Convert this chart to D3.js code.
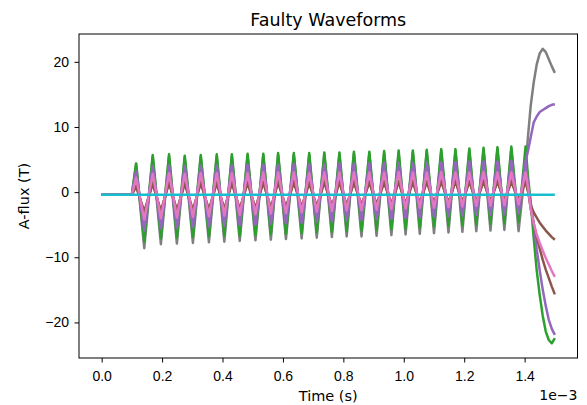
<!DOCTYPE html>
<html>
<head>
<meta charset="utf-8">
<script src="https://cdn.jsdelivr.net/npm/d3@7"></script>
<style>
  body { margin: 0; background: #fff; }
  svg { display: block; font-family: "DejaVu Sans", sans-serif; }
</style>
</head>
<body>
<svg id="chart"></svg>
<script>
// time values are in units of 1e-3 s
const peakT = [0.114, 0.169, 0.223, 0.275, 0.328, 0.381, 0.431, 0.483, 0.535, 0.584, 0.636, 0.687, 0.737,
  0.787, 0.835, 0.886, 0.935, 0.983, 1.030, 1.076, 1.124, 1.171, 1.217, 1.264, 1.310, 1.356];
const troughT = [0.141, 0.196, 0.249, 0.302, 0.355, 0.406, 0.457, 0.509, 0.560, 0.610, 0.662, 0.712, 0.762,
  0.811, 0.860, 0.910, 0.959, 1.006, 1.053, 1.100, 1.148, 1.194, 1.240, 1.287, 1.333, 1.380];
const tailT = [1.403, 1.412, 1.42, 1.43, 1.44, 1.45, 1.46, 1.47, 1.48, 1.49, 1.5];
const leadT = [0, 0.1];
const restLevel = -0.4;

// gray
const grayPk = [4.3, 5.4, 5.5, 5.3, 5.4, 5.5, 5.5, 5.6, 5.6, 5.7, 5.7, 5.7, 5.8, 5.8, 5.9, 5.9, 6.0, 6.0, 6.1, 6.2, 6.3, 6.3, 6.4, 6.5, 6.6, 6.6];
const grayTr = [-8.6, -8.0, -7.9, -7.8, -7.7, -7.6, -7.5, -7.4, -7.3, -7.2, -7.1, -7.0, -6.9, -6.8, -6.8, -6.7, -6.6, -6.5, -6.4, -6.3, -6.2, -6.1, -6.0, -5.9, -5.8, -6.0];
const grayTail = [4.0, 9.0, 13.2, 16.8, 19.6, 21.3, 22.0, 21.5, 20.4, 19.3, 18.3];
// green
const greenPk = [4.4, 5.7, 5.8, 5.6, 5.7, 5.8, 5.8, 5.9, 5.9, 6.0, 6.0, 6.0, 6.1, 6.1, 6.2, 6.2, 6.3, 6.4, 6.4, 6.5, 6.6, 6.6, 6.7, 6.8, 6.9, 7.0];
const greenTr = [-7.6, -7.1, -7.0, -6.9, -6.8, -6.7, -6.7, -6.6, -6.5, -6.4, -6.3, -6.2, -6.1, -6.0, -5.9, -5.8, -5.7, -5.6, -5.4, -5.3, -5.2, -5.1, -5.0, -4.9, -4.8, -4.6];
const greenTail = [7.0, 2.0, -1.5, -7.0, -12.0, -15.8, -19.0, -21.4, -22.7, -23.2, -22.4];
// purple, going up at the end
const purpleUpPk = [3.2, 4.0, 4.1, 4.0, 4.1, 4.1, 4.1, 4.2, 4.2, 4.2, 4.3, 4.3, 4.3, 4.4, 4.4, 4.4, 4.5, 4.5, 4.5, 4.6, 4.6, 4.6, 4.7, 4.7, 4.7, 4.8];
const purpleUpTr = [-5.9, -5.6, -5.5, -5.4, -5.3, -5.2, -5.1, -5.0, -4.9, -4.8, -4.7, -4.6, -4.5, -4.4, -4.3, -4.2, -4.1, -4.0, -3.9, -3.8, -3.7, -3.6, -3.5, -3.5, -3.4, -3.3];
const purpleUpTail = [4.7, 6.5, 8.4, 10.7, 11.6, 12.3, 12.6, 12.9, 13.2, 13.4, 13.5];
// purple, going down at the end
const purpleDnPk = [3.0, 3.8, 3.9, 3.8, 3.9, 3.9, 4.0, 4.0, 4.0, 4.1, 4.1, 4.1, 4.2, 4.2, 4.2, 4.3, 4.3, 4.3, 4.4, 4.4, 4.4, 4.5, 4.5, 4.5, 4.6, 4.6];
const purpleDnTr = [-5.6, -5.4, -5.3, -5.2, -5.1, -5.0, -4.9, -4.8, -4.7, -4.6, -4.5, -4.4, -4.3, -4.2, -4.1, -4.0, -3.9, -3.8, -3.7, -3.6, -3.5, -3.4, -3.4, -3.3, -3.2, -3.1];
const purpleDnTail = [4.6, 1.0, -1.6, -4.8, -8.8, -12.0, -15.0, -17.5, -19.6, -21.0, -21.9];
// pink
const pinkPk = [2.2, 2.8, 2.9, 2.8, 2.9, 2.9, 2.9, 2.9, 3.0, 3.0, 3.0, 2.9, 3.0, 3.0, 3.0, 3.0, 3.0, 3.1, 3.0, 3.0, 3.1, 3.0, 3.0, 3.1, 3.0, 3.0];
const pinkTr = [-4.2, -4.0, -3.9, -3.8, -3.7, -3.6, -3.5, -3.4, -3.3, -3.2, -3.1, -3.0, -2.9, -2.8, -2.8, -2.7, -2.6, -2.5, -2.4, -2.4, -2.3, -2.2, -2.1, -2.1, -2.0, -1.9];
const pinkTail = [3.0, 0.5, -2.5, -4.8, -6.5, -7.8, -9.0, -10.1, -11.1, -12.1, -13.0];
// brown (two of them)
const brownAPk = [1.0, 1.5, 1.6, 1.5, 1.6, 1.6, 1.6, 1.6, 1.6, 1.7, 1.7, 1.6, 1.7, 1.7, 1.7, 1.7, 1.7, 1.7, 1.8, 1.7, 1.8, 1.8, 1.7, 1.8, 1.8, 1.8];
const brownATr = [-3.2, -3.1, -3.0, -2.9, -2.9, -2.8, -2.7, -2.6, -2.6, -2.5, -2.4, -2.3, -2.3, -2.2, -2.1, -2.0, -2.0, -1.9, -1.8, -1.8, -1.7, -1.6, -1.6, -1.5, -1.4, -1.4];
const brownATail = [1.8, 0.0, -2.0, -3.1, -3.9, -4.7, -5.3, -5.9, -6.4, -6.9, -7.3];
const brownBPk = [0.9, 1.3, 1.4, 1.3, 1.4, 1.4, 1.4, 1.4, 1.5, 1.5, 1.5, 1.4, 1.5, 1.5, 1.5, 1.5, 1.5, 1.6, 1.5, 1.6, 1.6, 1.6, 1.6, 1.6, 1.6, 1.6];
const brownBTr = [-3.0, -2.9, -2.8, -2.8, -2.7, -2.6, -2.6, -2.5, -2.4, -2.3, -2.3, -2.2, -2.1, -2.0, -2.0, -1.9, -1.8, -1.8, -1.7, -1.6, -1.6, -1.5, -1.4, -1.4, -1.3, -1.2];
const brownBTail = [1.6, 0.0, -2.5, -4.8, -6.9, -8.7, -10.4, -11.9, -13.2, -14.5, -15.7];
// cyan, flat
const cyanT = [0, 1.5];
const cyanV = [-0.4, -0.4];

const xTicks = [0, 0.2, 0.4, 0.6, 0.8, 1.0, 1.2, 1.4];
const yTicks = [-20, -10, 0, 10, 20];

function buildPoints(pk, tr, tail) {
  const pts = leadT.map(t => [t, restLevel]);
  pk.forEach((v, i) => {
    pts.push([peakT[i], v]);
    pts.push([troughT[i], tr[i]]);
  });
  tail.forEach((v, i) => pts.push([tailT[i], v]));
  return pts;
}

// drawing order matters: later lines sit on top
const lines = [
  { color: "#7f7f7f", pts: buildPoints(grayPk, grayTr, grayTail) },
  { color: "#2ca02c", pts: buildPoints(greenPk, greenTr, greenTail) },
  { color: "#9467bd", pts: buildPoints(purpleDnPk, purpleDnTr, purpleDnTail) },
  { color: "#9467bd", pts: buildPoints(purpleUpPk, purpleUpTr, purpleUpTail) },
  { color: "#8c564b", pts: buildPoints(brownAPk, brownATr, brownATail) },
  { color: "#8c564b", pts: buildPoints(brownBPk, brownBTr, brownBTail) },
  { color: "#e377c2", pts: buildPoints(pinkPk, pinkTr, pinkTail) },
  { color: "#17becf", pts: cyanT.map((t, i) => [t, cyanV[i]]) }
];

const W = 587, H = 405;
const margin = { top: 34, right: 9.5, bottom: 47, left: 79 };
const width = W - margin.left - margin.right;
const height = H - margin.top - margin.bottom;

const svg = d3.select("#chart").attr("width", W).attr("height", H);

const x = d3.scaleLinear().domain([-0.075, 1.575]).range([0, width]);
const y = d3.scaleLinear().domain([-25.46, 24.27]).range([height, 0]);

const plot = svg.append("g").attr("transform", `translate(${margin.left},${margin.top})`);

plot.append("clipPath").attr("id", "clip")
  .append("rect").attr("width", width).attr("height", height);

const line = d3.line().x(d => x(d[0])).y(d => y(d[1]));

plot.append("g").attr("clip-path", "url(#clip)")
  .selectAll("path")
  .data(lines)
  .join("path")
  .attr("d", d => line(d.pts))
  .attr("fill", "none")
  .attr("stroke", d => d.color)
  .attr("stroke-width", 2.5)
  .attr("stroke-linejoin", "round");

// axes
const xAxis = plot.append("g")
  .attr("transform", `translate(0,${height})`)
  .call(d3.axisBottom(x).tickValues(xTicks).tickFormat(d3.format(".1f")).tickSize(4.5));
xAxis.select(".domain").remove();
xAxis.selectAll("text").attr("y", 23).attr("dy", null).attr("font-size", 14).attr("fill", "#000");

const yAxis = plot.append("g")
  .call(d3.axisLeft(y).tickValues(yTicks).tickFormat(d3.format("d")).tickSize(4.5).tickPadding(5.5));
yAxis.select(".domain").remove();
yAxis.selectAll("text").attr("font-size", 14).attr("fill", "#000");

svg.selectAll(".tick line").attr("stroke", "#000").attr("stroke-width", 1);

plot.append("rect")
  .attr("x", 0).attr("y", 0)
  .attr("width", width).attr("height", height)
  .attr("fill", "none").attr("stroke", "#000").attr("stroke-width", 1);

// labels
svg.append("text")
  .attr("x", margin.left + width / 2).attr("y", 26)
  .attr("text-anchor", "middle").attr("font-size", 17.5)
  .text("Faulty Waveforms");

svg.append("text")
  .attr("x", margin.left + width / 2).attr("y", 400.5)
  .attr("text-anchor", "middle").attr("font-size", 14.5)
  .text("Time (s)");

svg.append("text")
  .attr("x", margin.left + width).attr("y", 400)
  .attr("text-anchor", "end").attr("font-size", 14)
  .text("1e\u22123");

svg.append("text")
  .attr("transform", `translate(28.5,${margin.top + height / 2}) rotate(-90)`)
  .attr("text-anchor", "middle").attr("font-size", 14.5)
  .text("A-flux (T)");
</script>
</body>
</html>
